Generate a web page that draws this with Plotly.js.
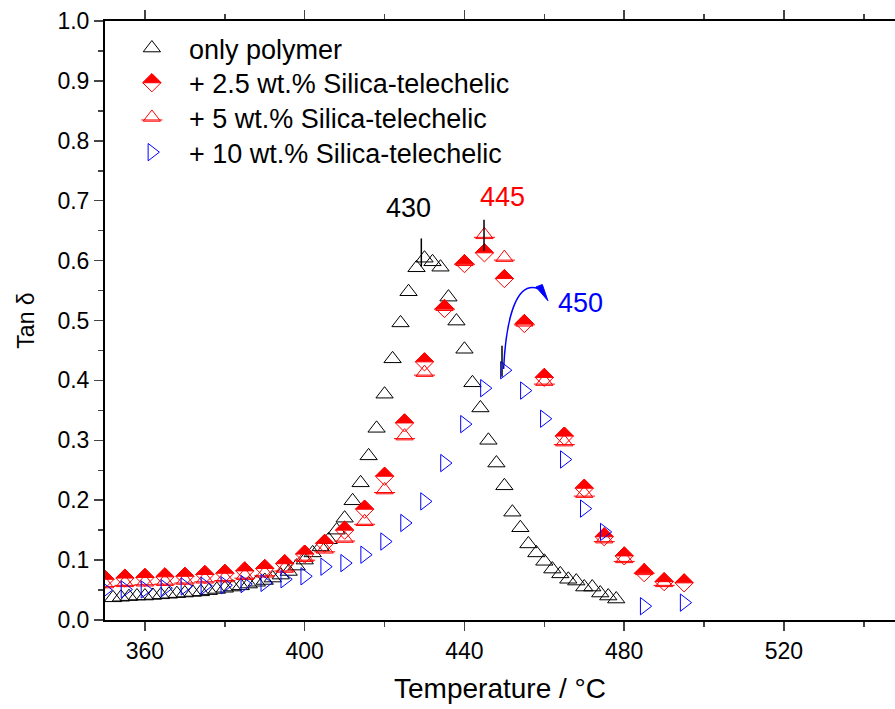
<!DOCTYPE html>
<html>
<head>
<meta charset="utf-8">
<script src="https://cdn.plot.ly/plotly-3.0.1.min.js"></script>
<style>html,body{margin:0;padding:0;background:#fff;}#chart{width:895px;height:709px;}</style>
</head>
<body>
<div id="chart"></div>
<script>
// ---- data ----
var polymerT = [352,354,356,358,360,362,364,366,368,370,372,374,376,378,380,382,384,386,388,390,392,394,396,398,400,402,404,406,408,410,412,414,416,418,420,422,424,426,428,430,432,434,436,438,440,442,444,446,448,450,452,454,456,458,460,462,464,466,468,470,472,474,476,478];
var polymerTan = [0.037,0.038,0.039,0.040,0.040,0.041,0.042,0.043,0.044,0.045,0.046,0.047,0.049,0.051,0.053,0.055,0.057,0.060,0.063,0.066,0.070,0.075,0.081,0.090,0.100,0.112,0.122,0.134,0.150,0.170,0.199,0.229,0.274,0.320,0.377,0.436,0.496,0.548,0.588,0.604,0.598,0.589,0.539,0.499,0.452,0.396,0.354,0.300,0.262,0.224,0.180,0.154,0.127,0.112,0.098,0.085,0.077,0.068,0.065,0.055,0.055,0.045,0.040,0.035];

var s25T = [350,355,360,365,370,375,380,385,390,395,400,405,410,415,420,425,430,435,440,445,450,455,460,465,470,475,480,485,490,495];
var s25Tan = [0.068,0.070,0.071,0.072,0.073,0.076,0.078,0.082,0.086,0.094,0.110,0.128,0.150,0.185,0.240,0.329,0.431,0.520,0.595,0.613,0.570,0.495,0.405,0.307,0.220,0.139,0.107,0.079,0.064,0.062];

var s5T = [350,355,360,365,370,375,380,385,390,395,400,405,410,415,420,425,430,435,440,445,450,455,460,465,470,475,480,485,490];
var s5Tan = [0.060,0.062,0.063,0.064,0.066,0.068,0.070,0.074,0.078,0.086,0.104,0.118,0.136,0.164,0.217,0.307,0.413,0.523,0.598,0.643,0.605,0.497,0.398,0.297,0.211,0.135,0.102,0.082,0.062];

var s10T = [350,355,360,365,370,375,380,385,390,395,400,405,410,415,420,425,430,435,440,445,450,455,460,465,470,475,485,495];
var s10Tan = [0.050,0.051,0.051,0.053,0.056,0.057,0.058,0.060,0.062,0.068,0.073,0.089,0.095,0.109,0.131,0.162,0.198,0.262,0.327,0.387,0.417,0.383,0.336,0.268,0.186,0.147,0.023,0.029];

var seriesNames = ['only polymer', '+ 2.5 wt.% Silica-telechelic', '+ 5 wt.% Silica-telechelic', '+ 10 wt.% Silica-telechelic'];
var peakLabels = ['430', '445', '450'];
var peakLabelT = [426, 449.5, 469];
var peakLabelTan = [0.688, 0.706, 0.529];

var FONT = 'Liberation Sans, Arial, sans-serif';
var RED = '#ff0000', BLUE = '#0000ff', BLACK = '#000000';

var traces = [
  {x: polymerT, y: polymerTan, name: seriesNames[0], type: 'scatter', mode: 'markers',
   marker: {symbol: 'triangle-up-open', size: 15, color: BLACK, line: {width: 1, color: BLACK}}},
  {x: s25T, y: s25Tan, name: seriesNames[1], type: 'scatter', mode: 'markers',
   marker: {symbol: 'diamond-open', size: 14, color: RED, line: {width: 1, color: RED}}},
  {x: s25T, y: s25Tan, name: seriesNames[1], type: 'scatter', mode: 'markers', showlegend: false,
   marker: {symbol: 'diamond', size: 14, color: RED, line: {width: 1, color: RED}}},
  {x: s5T, y: s5Tan, name: seriesNames[2], type: 'scatter', mode: 'markers',
   marker: {symbol: 'triangle-up-open', size: 15, color: RED, line: {width: 1, color: RED}}},
  {x: s5T, y: s5Tan, name: seriesNames[2], type: 'scatter', mode: 'markers', showlegend: false,
   marker: {symbol: 'line-ew-open', size: 18, color: RED, line: {width: 1, color: RED}}},
  {x: s10T, y: s10Tan, name: seriesNames[3], type: 'scatter', mode: 'markers',
   marker: {symbol: 'triangle-right-open', size: 15, color: BLUE, line: {width: 1, color: BLUE}}}
];

var annotations = peakLabels.map(function(t, i) {
  return {x: peakLabelT[i], y: peakLabelTan[i], xref: 'x', yref: 'y', text: t, showarrow: false,
          font: {family: FONT, size: 27, color: [BLACK, RED, BLUE][i]}};
});

var shapes = [
  {type: 'line', xref: 'x', yref: 'y', x0: 429.2, x1: 429.2, y0: 0.590, y1: 0.637, line: {color: BLACK, width: 1.5}},
  {type: 'line', xref: 'x', yref: 'y', x0: 444.9, x1: 444.9, y0: 0.616, y1: 0.668, line: {color: BLACK, width: 1.5}},
  {type: 'line', xref: 'x', yref: 'y', x0: 449.4, x1: 449.4, y0: 0.406, y1: 0.458, line: {color: BLACK, width: 1.5}},
  {type: 'path', xref: 'x', yref: 'y', path: 'M 449.8,0.419 C 450.5,0.515 453.5,0.566 458.5,0.553', line: {color: BLUE, width: 1.5}},
  {type: 'path', xref: 'x', yref: 'y', path: 'M 457.9,0.556 L 459.5,0.560 L 460.9,0.533 Z', fillcolor: BLUE, line: {color: BLUE, width: 1}}
];

var layout = {
  width: 895, height: 709,
  margin: {l: 105, r: 0, t: 21, b: 89},
  paper_bgcolor: '#fff', plot_bgcolor: '#fff',
  font: {family: FONT, color: BLACK},
  showlegend: true,
  legend: {x: 0.0125, y: 0.995, xanchor: 'left', yanchor: 'top', bgcolor: 'rgba(0,0,0,0)', itemwidth: 64,
           font: {family: FONT, size: 27, color: BLACK}, tracegroupgap: 0},
  xaxis: {range: [350, 547.8], tick0: 360, dtick: 40, ticks: 'outside', ticklen: 9, tickwidth: 1.5,
          showline: true, linewidth: 2, linecolor: BLACK, mirror: 'ticks', showgrid: false, zeroline: false,
          tickfont: {family: FONT, size: 23},
          minor: {dtick: 20, tick0: 360, ticks: 'outside', ticklen: 5, tickwidth: 1.5, showgrid: false},
          title: {text: 'Temperature / °C', font: {family: FONT, size: 28}, standoff: 16}},
  yaxis: {range: [0, 1], dtick: 0.1, tickformat: '.1f', ticks: 'outside', ticklen: 9, tickwidth: 1.5,
          showline: true, linewidth: 2, linecolor: BLACK, mirror: false, showgrid: false, zeroline: false,
          tickfont: {family: FONT, size: 23},
          minor: {dtick: 0.05, ticks: 'outside', ticklen: 5, tickwidth: 1.5, showgrid: false},
          title: {text: 'Tan δ', font: {family: FONT, size: 23}, standoff: 16}},
  annotations: annotations,
  shapes: shapes
};

var gd = document.getElementById('chart');
Plotly.newPlot(gd, traces, layout, {staticPlot: true, displayModeBar: false}).then(function() {
  var layers = gd.querySelectorAll('.scatterlayer .trace');
  var half = 'M-9.1,0H9.1L0,-9.1Z';
  var bar = 'M-10.5,2.5H10.5';
  if (layers[2]) layers[2].querySelectorAll('path.point').forEach(function(p){ p.setAttribute('d', half); });
  if (layers[4]) layers[4].querySelectorAll('path.point').forEach(function(p){ p.setAttribute('d', bar); });
  var items = gd.querySelectorAll('.legend .traces');
  function addSym(idx, d, fill, stroke) {
    var it = items[idx]; if (!it) return;
    var p = it.querySelector('path.scatterpts'); if (!p) return;
    var c = p.cloneNode(true);
    c.setAttribute('d', d);
    c.style.fill = fill; c.style.stroke = stroke; c.style.strokeWidth = '1px'; c.style.fillOpacity = 1;
    p.parentNode.appendChild(c);
  }
  addSym(1, half, RED, RED);
  addSym(2, bar, 'none', RED);
  // tighten legend row spacing to match reference
  var m0 = /translate\(\s*([-\d.]+)[ ,]+([-\d.]+)\s*\)/.exec(items[0] ? items[0].getAttribute('transform') || '' : '');
  if (m0) {
    var x0 = parseFloat(m0[1]), y0 = parseFloat(m0[2]);
    for (var i = 0; i < items.length; i++) {
      items[i].setAttribute('transform', 'translate(' + x0 + ',' + (y0 + i * 34.7) + ')');
    }
  }
});
</script>
</body>
</html>
